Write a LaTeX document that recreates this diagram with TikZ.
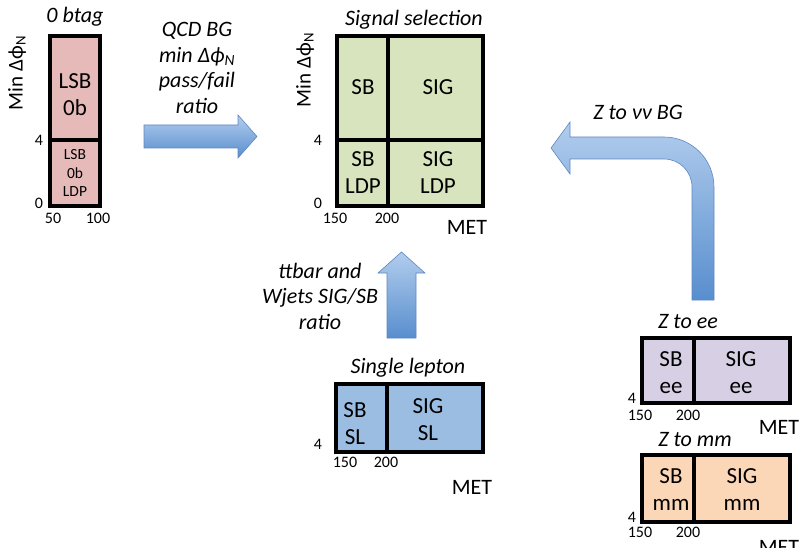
\documentclass[tikz,border=0pt]{standalone}
\usepackage{fontspec}
\setmainfont{Carlito}
\definecolor{pinkfill}{RGB}{230,186,185}
\definecolor{greenfill}{RGB}{215,228,189}
\definecolor{bluefill}{RGB}{155,189,226}
\definecolor{purplefill}{RGB}{215,208,228}
\definecolor{orangefill}{RGB}{251,215,184}
\definecolor{arrowtop}{RGB}{178,205,237}
\definecolor{arrowbot}{RGB}{88,142,206}
\definecolor{arrowedge}{RGB}{95,135,195}
\begin{document}
\begin{tikzpicture}[x=1pt,y=-1pt,
  box/.style={line width=3.3pt, draw=black, line join=miter},
  lbl/.style={font=\fontsize{23}{27}\selectfont, align=center, inner sep=0},
  smalllbl/.style={font=\fontsize{15.5}{18.5}\selectfont, align=center, inner sep=0},
  tick/.style={font=\fontsize{16}{18}\selectfont, inner sep=0},
  ttl/.style={font=\fontsize{22}{26}\selectfont\itshape, inner sep=0},
  axislbl/.style={font=\fontsize{21}{24}\selectfont, inner sep=0, rotate=90},
  met/.style={font=\fontsize{22}{26}\selectfont, inner sep=0},
  note/.style={font=\fontsize{22}{25.5}\selectfont\itshape, align=center, inner sep=0},
  fat/.style={draw=arrowedge, line width=0.6pt, top color=arrowtop, bottom color=arrowbot}]
\useasboundingbox (0,0) rectangle (802,548);

% ---------- 0 btag ----------
\draw[box, fill=pinkfill] (50,36) rectangle (100,206);
\draw[box] (50,140) -- (100,140);
\node[ttl] (t0) at (75,17) {0 btag};
\node[axislbl] (ax0) at (17,73) {Min Δϕ\textsubscript{N}};
\node[lbl] (lsb) at (75,95) {LSB\\0b};
\node[smalllbl] (lsbldp) at (75,173) {LSB\\0b\\LDP};
\node[tick] (t0a) at (39,140) {4};
\node[tick] (t0b) at (39,203) {0};
\node[tick] (t0c) at (53,218) {50};
\node[tick] (t0d) at (98,218) {100};

% ---------- QCD arrow ----------
\path[fat] (144,125) -- (238,125) -- (238,115) -- (257,136.5) -- (238,158) -- (238,148) -- (144,148) -- cycle;
\node[note] (qcd) at (197,68) {QCD BG\\min Δϕ\textsubscript{N}\\pass/fail\\ratio};

% ---------- Signal selection ----------
\draw[box, fill=greenfill] (337,36) rectangle (483,206);
\draw[box] (337,140) -- (483,140);
\draw[box] (388,36) -- (388,206);
\node[ttl] (tsig) at (414,20) {Signal selection};
\node[axislbl] (axs) at (305,70) {Min Δϕ\textsubscript{N}};
\node[lbl] (sb) at (363,87) {SB};
\node[lbl] (sig) at (438,87) {SIG};
\node[lbl] (sbldp) at (363,173) {SB\\LDP};
\node[lbl] (sigldp) at (438,173) {SIG\\LDP};
\node[tick] (tsa) at (318,140) {4};
\node[tick] (tsb) at (318,203) {0};
\node[tick] (tsc) at (335,218) {150};
\node[tick] (tsd) at (387,218) {200};
\node[met] (mets) at (467,227) {MET};

% ---------- up arrow ----------
\path[fat] (387,338) -- (387,273) -- (378,273) -- (401.5,252) -- (425,273) -- (416,273) -- (416,338) -- cycle;
\node[note] (ttw) at (320,296) {ttbar and\\Wjets SIG/SB\\ratio};

% ---------- Single lepton ----------
\draw[box, fill=bluefill] (336,384) rectangle (483,452);
\draw[box] (387,384) -- (387,452);
\node[ttl] (tsl) at (408,368) {Single lepton};
\node[lbl] (sbsl) at (355,424) {SB\\SL};
\node[lbl] (sigsl) at (428,420) {SIG\\SL};
\node[tick] (tla) at (318,444) {4};
\node[tick] (tlc) at (345,462) {150};
\node[tick] (tld) at (386,462) {200};
\node[met] (metl) at (472,487) {MET};

% ---------- bent arrow ----------
\path[fat] (692,300) -- (714,300) -- (714,187)
  arc[start angle=0, end angle=-90, radius=50]
  -- (570,137) -- (570,122) -- (551,148) -- (570,174) -- (570,159) -- (664,159)
  arc[start angle=-90, end angle=0, radius=28]
  -- cycle;
\node[note] (znn) at (638,112) {Z to νν BG};

% ---------- Z to ee ----------
\draw[box, fill=purplefill] (642,338) rectangle (790,403);
\draw[box] (694,338) -- (694,403);
\node[ttl] (tee) at (688,322) {Z to ee};
\node[lbl] (sbee) at (671,372.5) {SB\\ee};
\node[lbl] (sigee) at (741,372.5) {SIG\\ee};
\node[tick] (tea) at (632,398) {4};
\node[tick] (tec) at (640,415) {150};
\node[tick] (ted) at (688,415) {200};
\node[met] (metee) at (779,427) {MET};

% ---------- Z to mm ----------
\draw[box, fill=orangefill] (642,455) rectangle (790,522);
\draw[box] (694,455) -- (694,522);
\node[ttl] (tmm) at (695,440) {Z to mm};
\node[lbl] (sbmm) at (671,490) {SB\\mm};
\node[lbl] (sigmm) at (742,490) {SIG\\mm};
\node[tick] (tma) at (632,517) {4};
\node[tick] (tmc) at (640,532) {150};
\node[tick] (tmd) at (688,532) {200};
\node[met] (metmm) at (779,547) {MET};
\end{tikzpicture}
\end{document}
